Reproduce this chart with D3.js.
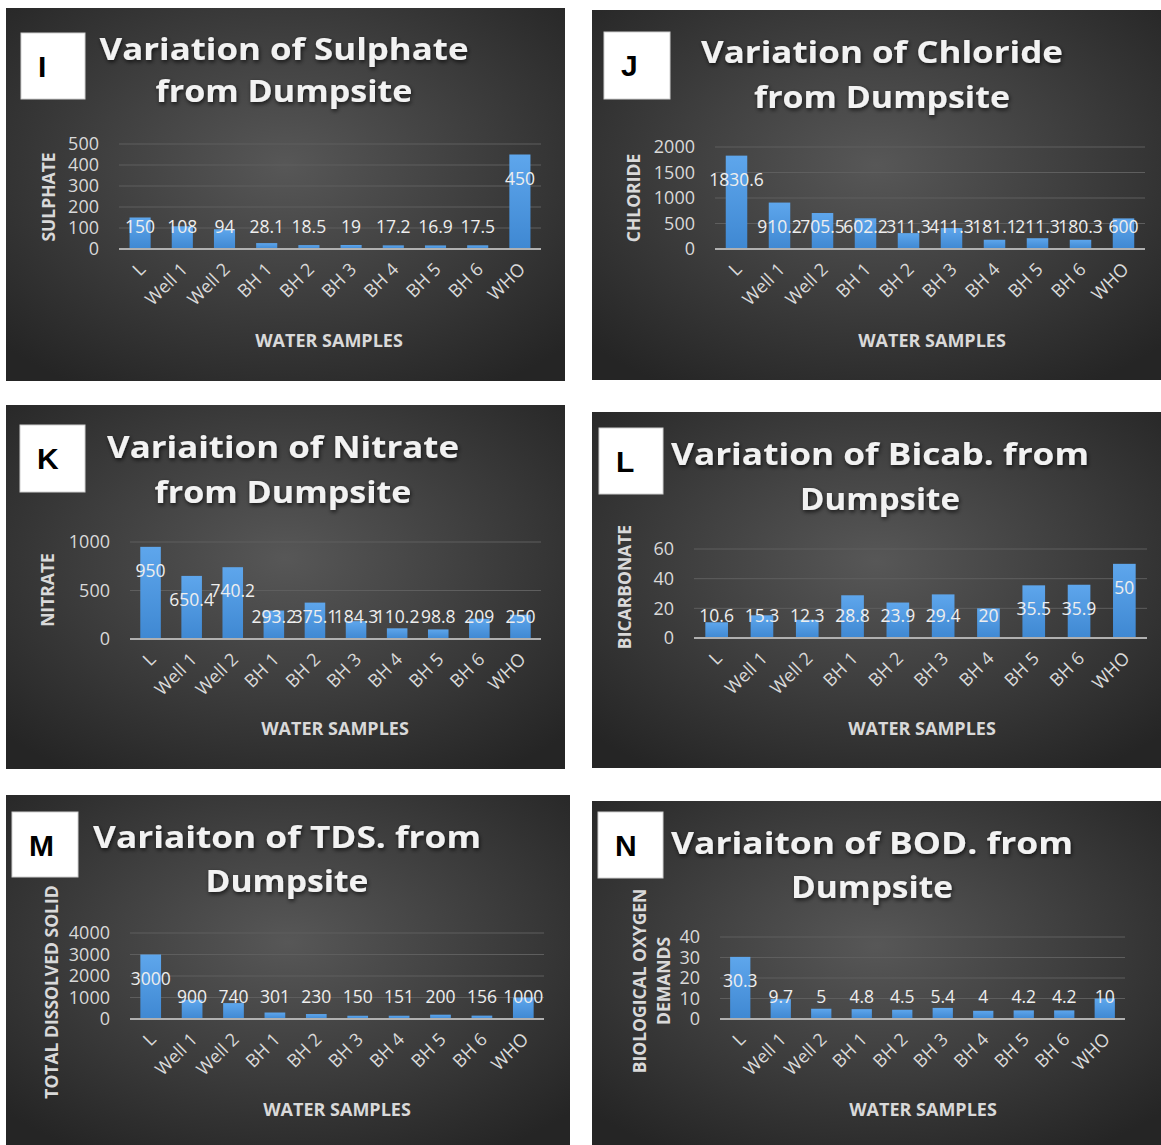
<!DOCTYPE html>
<html>
<head>
<meta charset="utf-8">
<script src="https://cdn.jsdelivr.net/npm/d3@7"></script>
<style>
  html, body { margin: 0; padding: 0; background: #ffffff; }
  svg { display: block; }
</style>
</head>
<body>
<svg id="chart" width="1161" height="1145"></svg>
<script>
// Sample stations (x categories shared by every panel)
const categories = ["L", "Well 1", "Well 2", "BH 1", "BH 2", "BH 3", "BH 4", "BH 5", "BH 6", "WHO"];

// Measured parameters per station
const sulphate    = [150, 108, 94, 28.1, 18.5, 19, 17.2, 16.9, 17.5, 450];
const chloride    = [1830.6, 910.2, 705.5, 602.2, 311.3, 411.3, 181.1, 211.3, 180.3, 600];
const nitrate     = [950, 650.4, 740.2, 293.2, 375.1, 184.3, 110.2, 98.8, 209, 250];
const bicarbonate = [10.6, 15.3, 12.3, 28.8, 23.9, 29.4, 20, 35.5, 35.9, 50];
const tds         = [3000, 900, 740, 301, 230, 150, 151, 200, 156, 1000];
const bod         = [30.3, 9.7, 5, 4.8, 4.5, 5.4, 4, 4.2, 4.2, 10];

// Value-axis tick labels
const sulphateTicks    = [0, 100, 200, 300, 400, 500];
const chlorideTicks    = [0, 500, 1000, 1500, 2000];
const nitrateTicks     = [0, 500, 1000];
const bicarbonateTicks = [0, 20, 40, 60];
const tdsTicks         = [0, 1000, 2000, 3000, 4000];
const bodTicks         = [0, 10, 20, 30, 40];

// Panel texts
const panelTags = ["I", "J", "K", "L", "M", "N"];
const panelTitles = [
  ["Variation of Sulphate", "from Dumpsite"],
  ["Variation of Chloride", "from Dumpsite"],
  ["Variaition of Nitrate", "from Dumpsite"],
  ["Variation of Bicab. from", "Dumpsite"],
  ["Variaiton of TDS. from", "Dumpsite"],
  ["Variaiton of BOD. from", "Dumpsite"]
];
const yTitles = [
  ["SULPHATE"], ["CHLORIDE"], ["NITRATE"], ["BICARBONATE"],
  ["TOTAL DISSOLVED SOLID"], ["BIOLOGICAL OXYGEN", "DEMANDS"]
];
const xTitle = "WATER SAMPLES";

const seriesList = [sulphate, chloride, nitrate, bicarbonate, tds, bod];
const tickList = [sulphateTicks, chlorideTicks, nitrateTicks, bicarbonateTicks, tdsTicks, bodTicks];

// Page geometry of each panel
const layout = [
  { frame: [6, 8, 559, 373],   tag: [21, 33, 64, 66],  title: { cx: 284, y: [60, 102],  w: [369, 257] }, yt: { x: [49], y: 197 },       plot: [119, 541, 144, 249], xt: { cx: 329, y: 346 } },
  { frame: [592, 10, 569, 370], tag: [604, 32, 66, 67], title: { cx: 882, y: [63, 108],  w: [362, 256] }, yt: { x: [634], y: 198 },      plot: [715, 1145, 147, 249], xt: { cx: 932, y: 346 } },
  { frame: [6, 405, 559, 364], tag: [20, 425, 65, 67], title: { cx: 283, y: [458, 503], w: [352, 257] }, yt: { x: [48], y: 590 },       plot: [130, 541, 542, 639], xt: { cx: 335, y: 734 } },
  { frame: [592, 412, 569, 356], tag: [599, 428, 64, 66], title: { cx: 880, y: [465, 510], w: [418, 160] }, yt: { x: [625], y: 587 },   plot: [694, 1147, 549, 638], xt: { cx: 922, y: 734 } },
  { frame: [6, 795, 564, 350], tag: [12, 812, 66, 65], title: { cx: 287, y: [848, 892], w: [388, 163] }, yt: { x: [52], y: 992 },       plot: [130, 544, 933, 1019], xt: { cx: 337, y: 1115 } },
  { frame: [592, 801, 569, 344], tag: [598, 812, 65, 66], title: { cx: 872, y: [854, 898], w: [402, 162] }, yt: { x: [640, 664], y: 981 }, plot: [720, 1125, 937, 1019], xt: { cx: 923, y: 1115 } }
];

const svg = d3.select("#chart");
const defs = svg.append("defs");

const bg = defs.append("radialGradient").attr("id", "panelBg")
  .attr("cx", "50%").attr("cy", "42%").attr("r", "70%");
bg.append("stop").attr("offset", "0%").attr("stop-color", "#575757");
bg.append("stop").attr("offset", "100%").attr("stop-color", "#252525");

const barGrad = defs.append("linearGradient").attr("id", "barFill")
  .attr("x1", 0).attr("y1", 0).attr("x2", 0).attr("y2", 1);
barGrad.append("stop").attr("offset", "0%").attr("stop-color", "#5ea6ec");
barGrad.append("stop").attr("offset", "100%").attr("stop-color", "#3f88d2");

const shadow = defs.append("filter").attr("id", "titleShadow")
  .attr("x", "-10%").attr("y", "-30%").attr("width", "120%").attr("height", "160%");
shadow.append("feDropShadow").attr("dx", 1).attr("dy", 2).attr("stdDeviation", 2)
  .attr("flood-color", "#000").attr("flood-opacity", 0.7);

const textFont = "'Open Sans', 'DejaVu Sans', sans-serif";

layout.forEach((L, i) => {
  const values = seriesList[i];
  const g = svg.append("g").attr("class", "panel panel-" + panelTags[i]);

  // panel background
  g.append("rect")
    .attr("x", L.frame[0]).attr("y", L.frame[1])
    .attr("width", L.frame[2]).attr("height", L.frame[3])
    .attr("fill", "url(#panelBg)");

  // white tag box with letter
  g.append("rect")
    .attr("x", L.tag[0]).attr("y", L.tag[1])
    .attr("width", L.tag[2]).attr("height", L.tag[3])
    .attr("fill", "#ffffff").attr("stroke", "#d0d0d0").attr("stroke-width", 1);
  g.append("text")
    .attr("x", L.tag[0] + 17).attr("y", L.tag[1] + 44)
    .attr("font-family", "'Liberation Sans', Arial, sans-serif")
    .attr("font-weight", "bold").attr("font-size", 30)
    .attr("fill", "#000000")
    .text(panelTags[i]);

  // two-line title
  panelTitles[i].forEach((line, k) => {
    g.append("text")
      .attr("x", L.title.cx).attr("y", L.title.y[k])
      .attr("text-anchor", "middle")
      .attr("font-family", textFont)
      .attr("font-weight", "bold").attr("font-size", 30)
      .attr("fill", "#f2f2f2")
      .attr("filter", "url(#titleShadow)")
      .attr("textLength", L.title.w[k])
      .attr("lengthAdjust", "spacingAndGlyphs")
      .text(line);
  });

  // scales
  const x = d3.scaleBand()
    .domain(categories)
    .range([L.plot[0], L.plot[1]])
    .paddingInner(0.5).paddingOuter(0.25);
  const ticks = tickList[i];
  const y = d3.scaleLinear()
    .domain([0, d3.max(ticks)])
    .range([L.plot[3], L.plot[2]]);

  // gridlines
  g.append("g")
    .selectAll("line")
    .data(ticks.filter(t => t !== 0))
    .join("line")
    .attr("x1", L.plot[0]).attr("x2", L.plot[1])
    .attr("y1", d => y(d)).attr("y2", d => y(d))
    .attr("stroke", "#5e5e5e").attr("stroke-width", 1);

  // value axis labels
  const yAxis = g.append("g")
    .attr("transform", `translate(${L.plot[0]},0)`)
    .call(d3.axisLeft(y).tickValues(ticks).tickSize(0).tickPadding(20).tickFormat(d3.format("d")));
  yAxis.select(".domain").remove();
  yAxis.selectAll("text")
    .attr("font-family", textFont).attr("font-size", 18)
    .attr("fill", "#d9d9d9");

  // bars
  g.append("g")
    .selectAll("rect")
    .data(values)
    .join("rect")
    .attr("x", (d, j) => x(categories[j]))
    .attr("width", x.bandwidth())
    .attr("y", d => y(d))
    .attr("height", d => y(0) - y(d))
    .attr("fill", "url(#barFill)");

  // category axis line
  g.append("line")
    .attr("x1", L.plot[0]).attr("x2", L.plot[1])
    .attr("y1", y(0)).attr("y2", y(0))
    .attr("stroke", "#b0b0b0").attr("stroke-width", 2);

  // rotated category labels
  g.append("g")
    .selectAll("text")
    .data(categories)
    .join("text")
    .attr("transform", d => `translate(${x(d) + x.bandwidth() / 2 + 2},${y(0) + 17}) rotate(-45)`)
    .attr("text-anchor", "end")
    .attr("dy", "0.35em")
    .attr("font-family", textFont).attr("font-size", 18)
    .attr("fill", "#d9d9d9")
    .text(d => d);

  // data labels: inside the bar top, never lower than a fixed line above the axis
  g.append("g")
    .selectAll("text")
    .data(values)
    .join("text")
    .attr("x", (d, j) => x(categories[j]) + x.bandwidth() / 2)
    .attr("y", d => Math.min(y(d) + 24, y(0) - 22))
    .attr("dy", "0.35em")
    .attr("text-anchor", "middle")
    .attr("font-family", textFont).attr("font-size", 17.5)
    .attr("fill", "#eeeeee")
    .text(d => String(d));

  // value axis title
  const lines = yTitles[i];
  lines.forEach((line, k) => {
    g.append("text")
      .attr("transform", `translate(${L.yt.x[k]},${L.yt.y}) rotate(-90)`)
      .attr("text-anchor", "middle")
      .attr("dy", "0.35em")
      .attr("font-family", textFont).attr("font-weight", "bold").attr("font-size", 17.5)
      .attr("fill", "#d9d9d9")
      .text(line);
  });

  // category axis title
  g.append("text")
    .attr("x", L.xt.cx).attr("y", L.xt.y + 1)
    .attr("text-anchor", "middle")
    .attr("font-family", textFont).attr("font-weight", "bold").attr("font-size", 18)
    .attr("fill", "#d9d9d9")
    .text(xTitle);
});
</script>
</body>
</html>
